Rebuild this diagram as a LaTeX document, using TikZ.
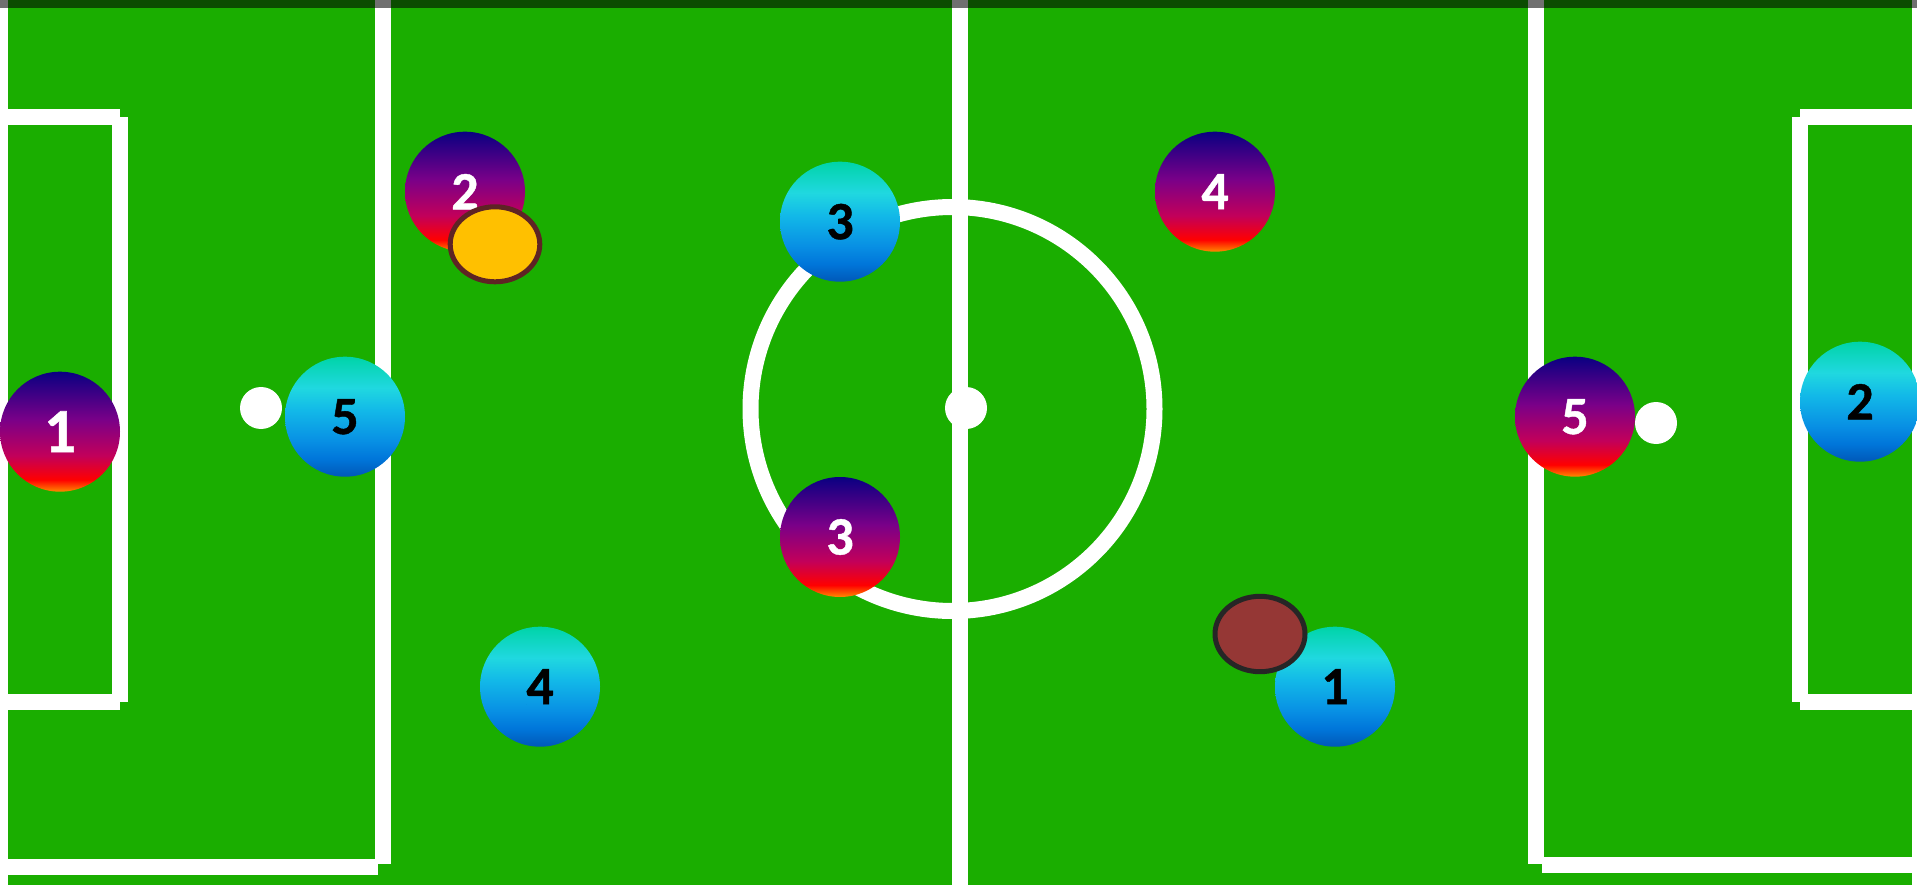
\documentclass[tikz,border=0pt]{standalone}
\usepackage{fontspec}
\setmainfont{Carlito}
\newfontfamily\numfont{Carlito}[BoldFeatures={FakeBold=0.8}]
\definecolor{field}{HTML}{1AAE00}
\definecolor{pa}{HTML}{0A0082}
\definecolor{pb}{HTML}{7A0088}
\definecolor{pc}{HTML}{C2005A}
\definecolor{pd}{HTML}{FF0000}
\definecolor{pe}{HTML}{FF8A00}
\definecolor{ca}{HTML}{00D4A8}
\definecolor{cb}{HTML}{20D8E0}
\definecolor{cc}{HTML}{12B8E8}
\definecolor{cd}{HTML}{0890E4}
\definecolor{ce}{HTML}{0076DA}
\definecolor{cf}{HTML}{0058B8}
\definecolor{yball}{HTML}{FFC000}
\definecolor{yedge}{HTML}{5E2424}
\definecolor{rball}{HTML}{953735}
\definecolor{redge}{HTML}{262626}
\pgfdeclareverticalshading{purpleball}{100bp}{color(0bp)=(pe); color(25bp)=(pe); color(30bp)=(pd); color(40bp)=(pc); color(55bp)=(pb); color(75bp)=(pa); color(100bp)=(pa)}
\pgfdeclareverticalshading{cyanball}{100bp}{color(0bp)=(cf); color(25bp)=(cf); color(32.5bp)=(ce); color(40bp)=(cd); color(52.5bp)=(cc); color(62bp)=(cb); color(75bp)=(ca); color(100bp)=(ca)}
\tikzset{
  player/.style={circle, minimum size=120pt, inner sep=0pt, font=\numfont\fontsize{54}{54}\selectfont\bfseries},
  red team/.style={player, shading=purpleball, text=white},
  blue team/.style={player, shading=cyanball, text=black},
  spot/.style={circle, fill=white, minimum size=42pt, inner sep=0pt},
  linepart/.style={fill=white}
}
\begin{document}
\begin{tikzpicture}[x=1pt,y=-1pt]
\useasboundingbox (0,0) rectangle (1917,885);
\clip (0,0) rectangle (1917,885);
\fill[field] (0,0) rectangle (1917,885);
% pitch lines
\fill[linepart] (0,0) rectangle (8,885);
\fill[linepart] (1912,0) rectangle (1920,885);
% left goal
\fill[linepart] (0,109) rectangle (120,125);
\fill[linepart] (112,117) rectangle (128,702);
\fill[linepart] (0,694) rectangle (120,710);
% left area
\fill[linepart] (375,0) rectangle (391,864);
\fill[linepart] (0,859) rectangle (378,875);
% right goal
\fill[linepart] (1800,109) rectangle (1917,125);
\fill[linepart] (1792,117) rectangle (1808,702);
\fill[linepart] (1800,694) rectangle (1917,710);
% right area
\fill[linepart] (1528,0) rectangle (1544,864);
\fill[linepart] (1542,857) rectangle (1917,873);
% centre
\fill[linepart] (952,0) rectangle (968,885);
\draw[white, line width=16pt] (952.5,409) circle (202);
\node[spot] (centre) at (966,408) {};
\node[spot] (lspot) at (261,408) {};
\node[spot] (rspot) at (1656,423) {};
% players
\node[red team, font=\numfont\fontsize{63}{63}\selectfont\bfseries] (r1) at (60,431.7) {1};
\node[red team] (r2) at (465,191.7) {2};
\node[red team] (r3) at (840,537) {3};
\node[red team] (r4) at (1215,191.7) {4};
\node[red team] (r5) at (1575,416.7) {5};
\node[blue team] (b5) at (345,416.7) {5};
\node[blue team] (b3) at (840,221.7) {3};
\node[blue team] (b4) at (540,686.7) {4};
\node[blue team] (b1) at (1335,686.7) {1};
\node[blue team] (b2) at (1860,401.7) {2};
% balls
\draw[fill=yball, draw=yedge, line width=5pt] (495,244.3) ellipse [x radius=44.8, y radius=37.5];
\draw[fill=rball, draw=redge, line width=5pt] (1260,634) ellipse [x radius=45, y radius=37.7];
% top bar
\fill[black, opacity=0.56] (0,0) rectangle (1917,8);
\end{tikzpicture}
\end{document}
